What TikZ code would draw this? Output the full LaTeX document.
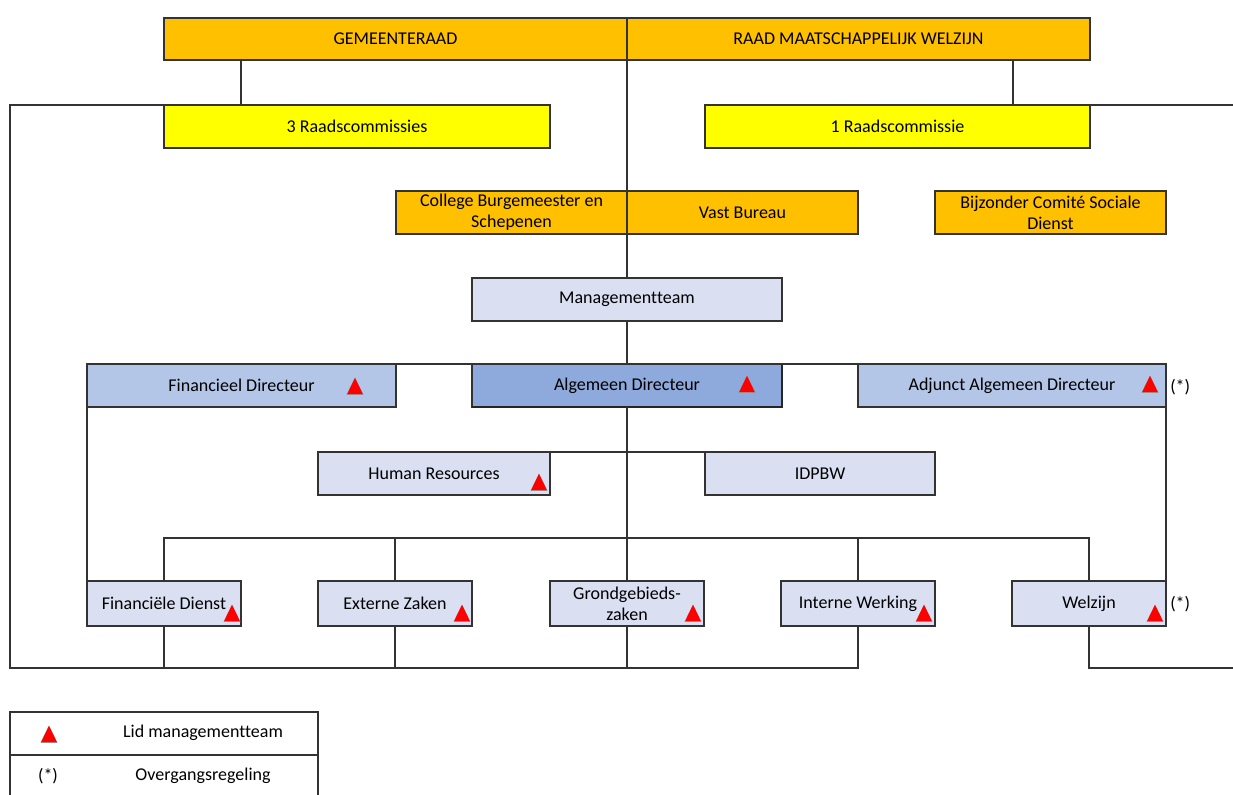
\documentclass[tikz,border=0pt]{standalone}
\usepackage{fontspec}
\setmainfont[Ligatures=NoCommon]{Carlito}
\definecolor{orng}{HTML}{FFC000}
\definecolor{yell}{HTML}{FFFF00}
\definecolor{pale}{HTML}{DAE0F2}
\definecolor{midb}{HTML}{B4C6E7}
\definecolor{darkb}{HTML}{8EA9DB}
\definecolor{tri}{HTML}{FF0000}
\tikzset{
  box/.style={draw=black!80, line width=1pt, inner sep=0pt, outer sep=0pt, align=center, text=black, font=\fontsize{13.5}{16}\selectfont},
  conn/.style={draw=black!80, line width=1pt},
  lbl/.style={inner sep=0pt, text=black, font=\fontsize{13.5}{16}\selectfont},
  redtri/.pic={\fill[black!40] (-8.5,8.8) -- (8.5,8.8) -- (0,-8.5) -- cycle;
               \fill[tri] (-7.8,8) -- (7.8,8) -- (0,-8.2) -- cycle;}
}
\newcommand{\bx}[7]{\node[box,#2,minimum width={(#5-#3)*0.75pt},minimum height={(#6-#4)*0.75pt}] (#1) at ({(#3+#5)/2},{(#4+#6)/2}) {#7};}
\begin{document}
\begin{tikzpicture}[x=0.75pt,y=-0.75pt]
\useasboundingbox (0,0) rectangle (1233,794);
% boxes
\bx{ger}{fill=orng}{164}{18}{627}{60}{GEMEENTERAAD}
\bx{rmw}{fill=orng}{627}{18}{1090}{60}{RAAD MAATSCHAPPELIJK WELZIJN}
\bx{rc3}{fill=yell}{164}{105}{550}{148}{3 Raadscommissies}
\bx{rc1}{fill=yell}{705}{105}{1090}{148}{1 Raadscommissie}
\bx{cbs}{fill=orng}{396}{191}{627}{234}{College Burgemeester en\\Schepenen}
\bx{vb}{fill=orng}{627}{191}{858}{234}{Vast Bureau}
\bx{bcsd}{fill=orng}{935}{191}{1166}{234}{Bijzonder Comité Sociale\\Dienst}
\bx{mt}{fill=pale}{472}{278}{782}{321}{Managementteam}
\bx{fd}{fill=midb}{87}{364}{396}{407}{Financieel Directeur}
\bx{ad}{fill=darkb}{472}{364}{782}{407}{Algemeen Directeur}
\bx{aad}{fill=midb}{858}{364}{1166}{407}{Adjunct Algemeen Directeur}
\bx{hr}{fill=pale}{318}{452}{550}{495}{Human Resources}
\bx{idp}{fill=pale}{705}{452}{935}{495}{IDPBW}
\bx{fin}{fill=pale}{87}{581}{241}{626}{Financiële Dienst}
\bx{ez}{fill=pale}{318}{581}{472}{626}{Externe Zaken}
\bx{gz}{fill=pale}{550}{581}{704}{626}{Grondgebieds-\\zaken}
\bx{iw}{fill=pale}{781}{581}{935}{626}{Interne Werking}
\bx{wz}{fill=pale}{1012}{581}{1166}{626}{Welzijn}
% thicker edge of Algemeen Directeur
\draw[line width=1.8pt, black!85] (ad.north east) -- (ad.south east) -- (ad.south west);
% junction coordinates
\coordinate (j1) at (241,0);
\coordinate (j2) at (1013,0);
\coordinate (bus) at (0,538);
\coordinate (cL) at (10,668);
\coordinate (rE) at (1245,0);
% connectors
\draw[conn] (ger.south -| j1) -- (rc3.north -| j1);
\draw[conn] (rmw.south -| j2) -- (rc1.north -| j2);
\draw[conn] (ger.south east) -- (cbs.north east);
\draw[conn] (cbs.south east) -- (mt.north);
\draw[conn] (mt.south) -- (ad.north);
\draw[conn] (ad.south) -- (gz.north);
\draw[conn] (fd.north east) -- (ad.north west);
\draw[conn] (ad.north east) -- (aad.north west);
\draw[conn] (fd.south west) -- (fin.north west);
\draw[conn] (aad.south east) -- (wz.north east);
\draw[conn] (hr.north east) -- (idp.north west);
\draw[conn] (fin.north) |- (bus -| wz.north) -- (wz.north);
\draw[conn] (ez.north) -- (ez.north |- bus);
\draw[conn] (iw.north) -- (iw.north |- bus);
\draw[conn] (rc3.north west) -| (cL) -- (cL -| iw.south) -- (iw.south);
\draw[conn] (fin.south) -- (fin.south |- cL);
\draw[conn] (ez.south) -- (ez.south |- cL);
\draw[conn] (gz.south) -- (gz.south |- cL);
\draw[conn] (rc1.north east) -- (rc1.north east -| rE);
\draw[conn] (wz.south) |- (rE |- cL);
% triangles
\pic at (355,386) {redtri};
\pic at (747,384) {redtri};
\pic at (1150,384) {redtri};
\pic at (539,482) {redtri};
\pic at (232,613) {redtri};
\pic at (462,613) {redtri};
\pic at (693,613) {redtri};
\pic at (924,613) {redtri};
\pic at (1155,613) {redtri};
% (*) marks
\node[lbl, anchor=west] (st1) at (1170,387) {(*)};
\node[lbl, anchor=west] (st2) at (1170,604) {(*)};
% legend
\node[box, fill=white, minimum width={308*0.75pt}, minimum height={43*0.75pt}] (lg1) at (164,733.5) {};
\node[box, fill=white, minimum width={308*0.75pt}, minimum height={43*0.75pt}] (lg2) at (164,776.5) {};
\pic at (49,734) {redtri};
\node[lbl] (lt1) at (203,733) {Lid managementteam};
\node[lbl] (lt2) at (48,776) {(*)};
\node[lbl] (lt3) at (203,776) {Overgangsregeling};
\end{tikzpicture}
\end{document}
